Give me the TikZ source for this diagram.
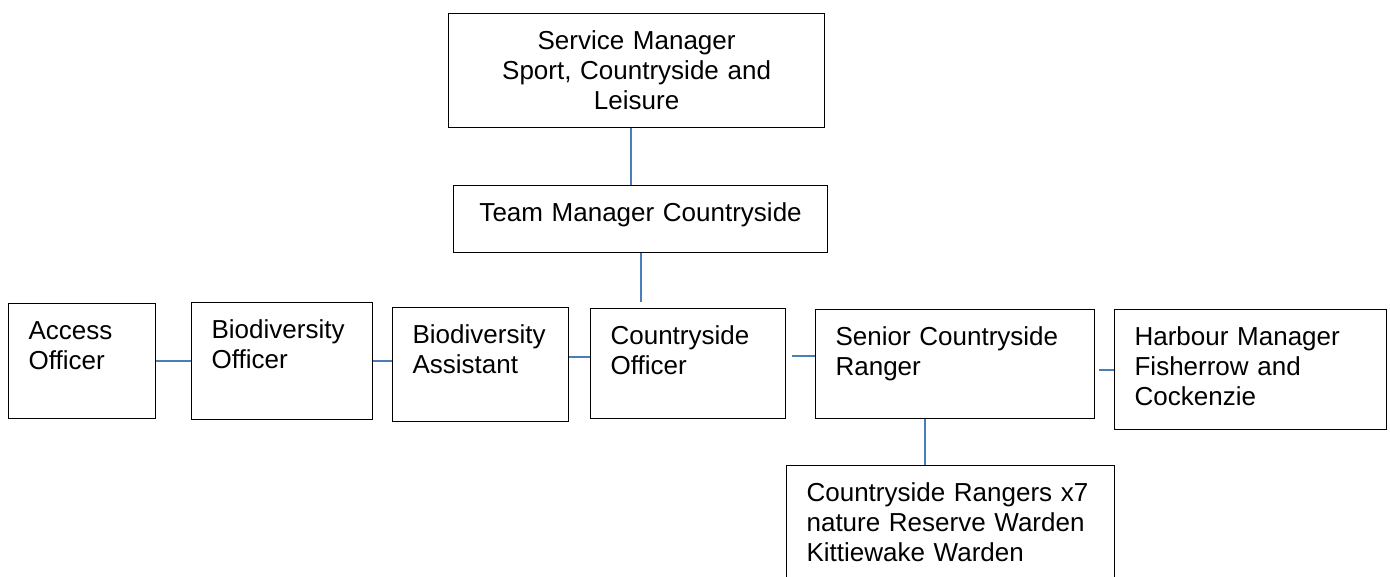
\documentclass[tikz,border=0pt]{standalone}
\usepackage{fontspec}
\setmainfont{Liberation Sans}
\definecolor{linkblue}{HTML}{4A7EBB}

\begin{document}
\begin{tikzpicture}[x=1pt,y=-1pt,
  main node/.style={draw,line width=1.2pt,anchor=north west,inner xsep=20pt,
    inner ysep=0pt,font=\fontsize{26}{30}\selectfont,align=left},text height=36pt,
  link/.style={draw=linkblue,line width=1.8pt}]
  \useasboundingbox (0,0) rectangle (1390,576);
  \node[main node,align=center,text width=336pt,text depth=78pt] (SM) at (448,13)
    {Service Manager\\Sport, Countryside and\\Leisure};
  \node[main node,align=center,text width=334pt,text depth=31pt] (TM) at (453,185)
    {Team Manager Countryside};
  \node[main node,text width=107pt,text depth=79pt] (AO) at (8,303)   {Access\\Officer};
  \node[main node,text width=141pt,text depth=81pt] (BO) at (191,302) {Biodiversity\\Officer};
  \node[main node,text width=136pt,text depth=78pt] (BA) at (392,307) {Biodiversity\\Assistant};
  \node[main node,text width=155pt,text depth=74pt] (CO) at (590,308) {Countryside\\Officer};
  \node[main node,text width=239pt,text depth=73pt] (SR) at (815,309) {Senior Countryside\\Ranger};
  \node[main node,text width=232pt,text depth=84pt] (HM) at (1114,309)
    {Harbour Manager\\Fisherrow and\\Cockenzie};
  \node[main node,text width=288pt,text depth=77pt] (CR) at (786,465)
    {Countryside Rangers x7\\nature Reserve Warden\\Kittiewake Warden};
  \path
    ([xshift=-6pt]SM.south) edge[link] ([xshift=-6pt]SM.south |- TM.north)
    (TM.south) edge[link] ([yshift=6pt]TM.south |- CO.north)
    (AO.east) edge[link] (AO.east -| BO.west)
    (BO.east) edge[link] (BO.east -| BA.west)
    ([yshift=7pt]CO.west) edge[link] ([yshift=7pt]CO.west -| BA.east)
    ([yshift=8pt]SR.west) edge[link] ([yshift=8pt,xshift=6pt]SR.west -| CO.east)
    (HM.west) edge[link] ([xshift=4pt]HM.west -| SR.east)
    ([xshift=-30pt]SR.south) edge[link] ([xshift=-30pt]SR.south |- CR.north);
\end{tikzpicture}
\end{document}
